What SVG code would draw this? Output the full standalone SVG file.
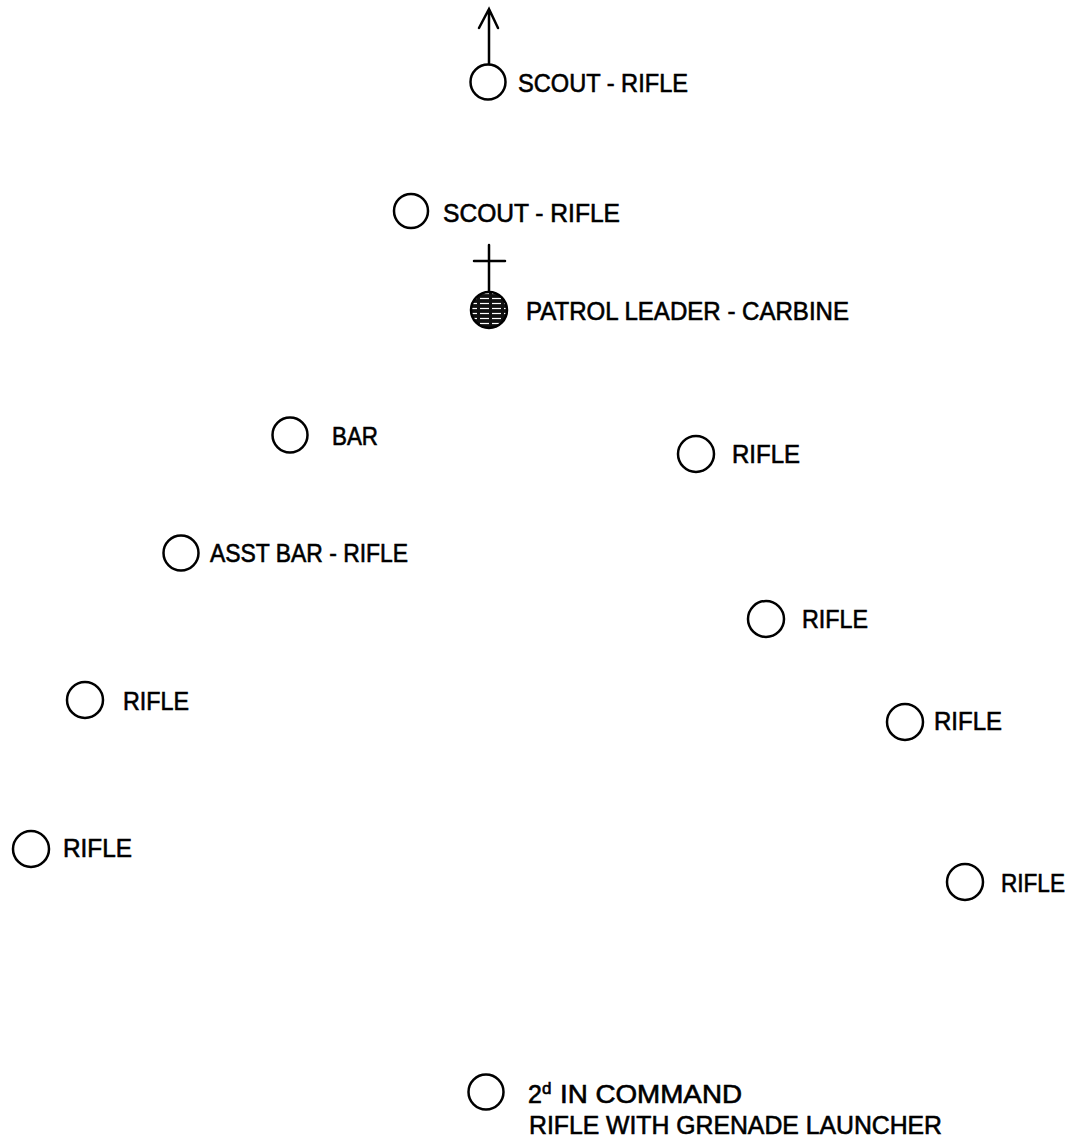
<svg xmlns="http://www.w3.org/2000/svg" width="1081" height="1138" viewBox="0 0 1081 1138">
<style>
  .n circle.o { fill: #fff; stroke: #000; stroke-width: 2.5; }
  text { font-family: "Liberation Sans", Arial, sans-serif; font-size: 25px; fill: #000; stroke: #000; stroke-width: 0.6; }
  .c { stroke: #000; stroke-width: 2.5; fill: none; stroke-linecap: round; }
</style>
<defs>
  <pattern id="hatch" patternUnits="userSpaceOnUse" width="12" height="5">
    <rect width="12" height="5" fill="#111"/>
    <line x1="0" y1="3.5" x2="9" y2="3.5" stroke="#fff" stroke-width="1.2"/>
  </pattern>
</defs>
<rect width="1081" height="1138" fill="#fff"/>
<g id="connectors">
  <path class="c" d="M489 64 V9 M479 28 L489 9 L498 28"/>
  <path class="c" d="M489 245 V292 M474 261 H505"/>
</g>
<g id="scout1" class="n">
  <circle class="o" cx="488" cy="82" r="17.5"/>
  <text x="518" y="92" textLength="170" lengthAdjust="spacingAndGlyphs">SCOUT - RIFLE</text>
</g>
<g id="scout2" class="n">
  <circle class="o" cx="411" cy="211" r="17"/>
  <text x="443" y="222" textLength="177" lengthAdjust="spacingAndGlyphs">SCOUT - RIFLE</text>
</g>
<g id="leader" class="n">
  <circle cx="489" cy="310" r="18" fill="url(#hatch)" stroke="#000" stroke-width="2.5"/>
  <text x="526" y="320" textLength="323" lengthAdjust="spacingAndGlyphs">PATROL LEADER - CARBINE</text>
</g>
<g id="bar" class="n">
  <circle class="o" cx="290" cy="435" r="17.5"/>
  <text x="332" y="445" textLength="46" lengthAdjust="spacingAndGlyphs">BAR</text>
</g>
<g id="rifle-r1" class="n">
  <circle class="o" cx="696" cy="454" r="18"/>
  <text x="732" y="463" textLength="68" lengthAdjust="spacingAndGlyphs">RIFLE</text>
</g>
<g id="asst-bar" class="n">
  <circle class="o" cx="181" cy="553" r="17.5"/>
  <text x="210" y="562" textLength="198" lengthAdjust="spacingAndGlyphs">ASST BAR - RIFLE</text>
</g>
<g id="rifle-r2" class="n">
  <circle class="o" cx="766" cy="619" r="18"/>
  <text x="802" y="628" textLength="66" lengthAdjust="spacingAndGlyphs">RIFLE</text>
</g>
<g id="rifle-l1" class="n">
  <circle class="o" cx="85" cy="700" r="18"/>
  <text x="123" y="710" textLength="66" lengthAdjust="spacingAndGlyphs">RIFLE</text>
</g>
<g id="rifle-r3" class="n">
  <circle class="o" cx="905" cy="722" r="18"/>
  <text x="934" y="730" textLength="68" lengthAdjust="spacingAndGlyphs">RIFLE</text>
</g>
<g id="rifle-l2" class="n">
  <circle class="o" cx="31" cy="849" r="18"/>
  <text x="63" y="857" textLength="69" lengthAdjust="spacingAndGlyphs">RIFLE</text>
</g>
<g id="rifle-r4" class="n">
  <circle class="o" cx="965" cy="882" r="18"/>
  <text x="1001" y="892" textLength="64" lengthAdjust="spacingAndGlyphs">RIFLE</text>
</g>
<g id="second" class="n">
  <circle class="o" cx="486" cy="1092" r="17.5"/>
  <text x="528" y="1103">2<tspan font-size="17" dy="-9">d</tspan></text>
  <text x="560" y="1103" textLength="182" lengthAdjust="spacingAndGlyphs">IN COMMAND</text>
  <text x="529" y="1134" textLength="413" lengthAdjust="spacingAndGlyphs">RIFLE WITH GRENADE LAUNCHER</text>
</g>
</svg>
